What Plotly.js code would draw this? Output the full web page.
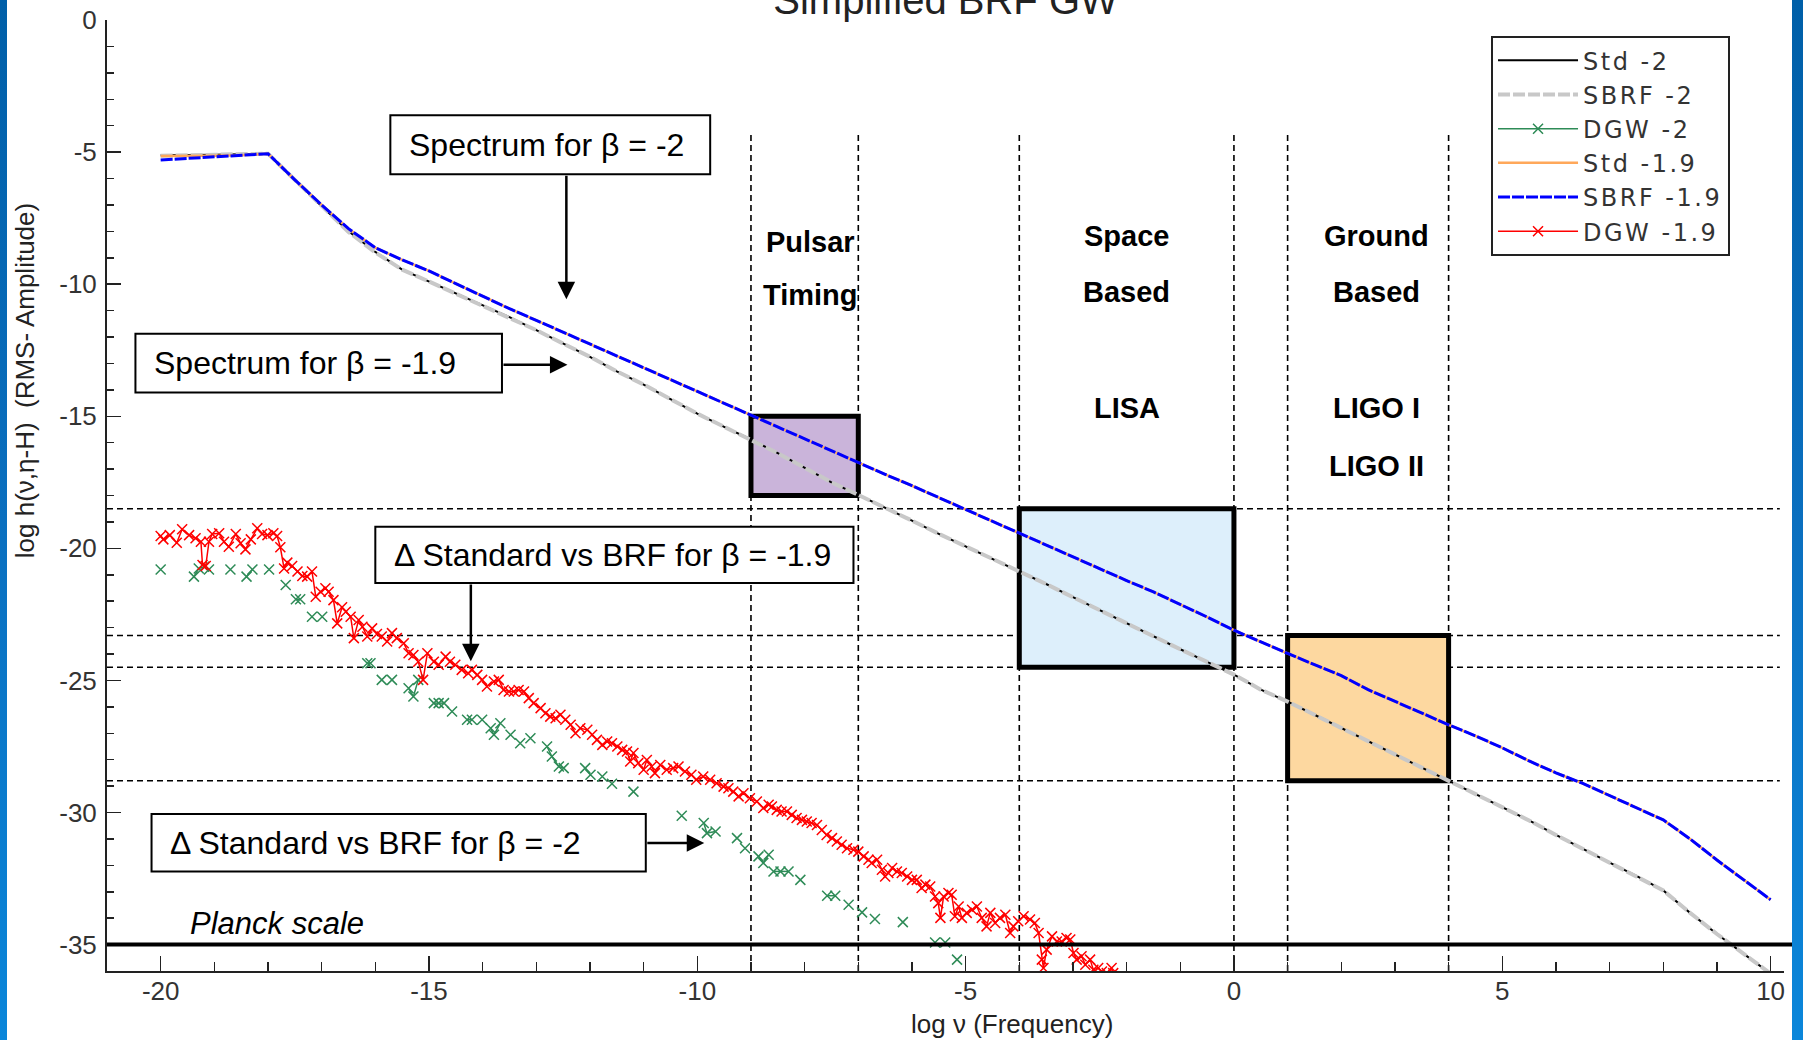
<!DOCTYPE html>
<html>
<head>
<meta charset="utf-8">
<script src="https://cdn.plot.ly/plotly-3.0.1.min.js"></script>
<style>
  html, body { margin: 0; padding: 0; background: #ffffff; }
  #wrap { position: relative; width: 1803px; height: 1040px; overflow: hidden; }
  #chart { position: absolute; left: 0; top: 0; width: 1803px; height: 1040px; }
  .strip { position: absolute; top: 0; height: 1040px; pointer-events: none;
           background: linear-gradient(to bottom, #005fa8 0%, #0a6fbf 50%, #0a86da 100%); }
  .legendtext { letter-spacing: 2.5px; }
</style>
</head>
<body>
<div id="wrap">
  <div id="chart"></div>
  <div class="strip" style="left:0;width:7px;"></div>
  <div class="strip" style="left:1792px;width:11px;"></div>
</div>
<script>
// ---- Data ----
const spectrumFreq = [-20,-19.5,-19,-18.5,-18,-17.5,-17,-16.5,-16,-15.5,-15,-14.5,-14,-13.5,-13,-12.5,-12,-11.5,-11,-10.5,-10,-9.5,-9,-8.5,-8,-7.5,-7,-6.5,-6,-5.5,-5,-4.5,-4,-3.5,-3,-2.5,-2,-1.5,-1,-0.5,0,0.5,1,1.5,2,2.5,3,3.5,4,4.5,5,5.5,6,6.5,7,7.5,8,8.5,9,9.5,10];

const std2 = [-5.12,-5.12,-5.10,-5.08,-5.06,-6.05,-7.05,-8.00,-8.78,-9.45,-9.90,-10.35,-10.78,-11.25,-11.74,-12.25,-12.75,-13.30,-13.80,-14.35,-14.90,-15.40,-15.88,-16.40,-16.95,-17.50,-17.98,-18.45,-18.95,-19.45,-19.92,-20.40,-20.85,-21.35,-21.85,-22.35,-22.85,-23.35,-23.82,-24.30,-24.78,-25.35,-25.80,-26.30,-26.80,-27.30,-27.80,-28.30,-28.78,-29.30,-29.80,-30.30,-30.85,-31.38,-31.90,-32.40,-32.95,-33.80,-34.60,-35.35,-36.10];
const sbrf2 = [-5.14,-5.12,-5.10,-5.08,-5.06,-6.05,-7.05,-8.02,-8.80,-9.45,-9.90,-10.35,-10.80,-11.25,-11.74,-12.25,-12.75,-13.30,-13.80,-14.35,-14.90,-15.40,-15.88,-16.40,-16.95,-17.50,-17.98,-18.45,-18.95,-19.45,-19.92,-20.40,-20.85,-21.35,-21.85,-22.35,-22.85,-23.35,-23.82,-24.30,-24.78,-25.35,-25.80,-26.30,-26.80,-27.30,-27.80,-28.30,-28.78,-29.30,-29.80,-30.30,-30.85,-31.38,-31.90,-32.40,-32.95,-33.80,-34.60,-35.35,-36.10];
const std19 = [-5.15,-5.15,-5.14,-5.12,-5.06,-6.05,-7.00,-7.90,-8.62,-9.08,-9.50,-9.98,-10.47,-10.93,-11.37,-11.82,-12.25,-12.70,-13.17,-13.60,-14.06,-14.50,-14.95,-15.40,-15.85,-16.30,-16.75,-17.20,-17.63,-18.08,-18.55,-18.98,-19.42,-19.90,-20.35,-20.78,-21.22,-21.65,-22.12,-22.60,-23.10,-23.55,-23.98,-24.40,-24.82,-25.35,-25.80,-26.25,-26.68,-27.10,-27.55,-28.05,-28.50,-28.90,-29.35,-29.80,-30.28,-31.00,-31.80,-32.55,-33.30];
const sbrf19 = [-5.30,-5.24,-5.18,-5.12,-5.06,-6.05,-7.00,-7.90,-8.62,-9.08,-9.50,-9.98,-10.47,-10.93,-11.37,-11.82,-12.25,-12.70,-13.17,-13.60,-14.06,-14.50,-14.95,-15.40,-15.85,-16.30,-16.75,-17.20,-17.63,-18.08,-18.55,-18.98,-19.42,-19.90,-20.35,-20.78,-21.22,-21.65,-22.12,-22.60,-23.10,-23.55,-23.98,-24.40,-24.82,-25.35,-25.80,-26.25,-26.68,-27.10,-27.55,-28.05,-28.50,-28.90,-29.35,-29.80,-30.28,-31.00,-31.80,-32.55,-33.30];

const dgw19Freq = [-20.00,-19.95,-19.83,-19.70,-19.60,-19.47,-19.35,-19.25,-19.22,-19.16,-19.10,-19.04,-18.91,-18.82,-18.73,-18.60,-18.51,-18.42,-18.32,-18.20,-18.11,-18.01,-17.90,-17.83,-17.77,-17.70,-17.64,-17.55,-17.45,-17.36,-17.27,-17.18,-17.11,-17.02,-16.93,-16.87,-16.78,-16.71,-16.62,-16.55,-16.46,-16.40,-16.31,-16.24,-16.15,-16.06,-15.97,-15.88,-15.78,-15.69,-15.60,-15.47,-15.38,-15.29,-15.20,-15.11,-15.03,-14.91,-14.82,-14.69,-14.61,-14.51,-14.39,-14.27,
  -14.20,-14.10,-14.01,-13.92,-13.79,-13.70,-13.61,-13.51,-13.42,-13.33,-13.23,-13.14,-13.05,-12.92,-12.83,-12.74,-12.64,-12.55,-12.46,-12.36,-12.27,-12.18,-12.05,-11.96,-11.87,-11.77,-11.68,-11.59,-11.49,-11.40,-11.31,-11.25,-11.19,-11.10,-11.00,-10.94,-10.85,-10.79,-10.69,-10.57,-10.45,-10.35,-10.23,-10.11,-10.02,-9.89,-9.76,-9.64,-9.51,-9.42,-9.33,-9.23,-9.14,-9.02,-8.89,-8.77,-8.67,
  -8.61,-8.52,-8.43,-8.33,-8.24,-8.15,-8.05,-7.96,-7.87,-7.77,-7.68,-7.59,-7.49,-7.40,-7.31,-7.21,-7.09,-7.00,-6.90,-6.81,-6.75,-6.65,-6.56,-6.50,-6.44,-6.37,-6.28,-6.19,-6.09,-6.00,-5.91,-5.82,-5.75,-5.66,-5.57,-5.51,-5.47,-5.41,-5.32,-5.26,-5.20,-5.13,-5.07,-4.98,-4.88,-4.79,-4.70,-4.61,-4.54,-4.45,-4.36,-4.26,-4.17,-4.11,-4.02,-3.92,-3.80,-3.71,-3.64,-3.58,-3.55,-3.49,-3.39,-3.30,-3.21,-3.12,-3.05,-2.99,-2.93,-2.84,-2.77,-2.68,-2.62,-2.53,-2.46,-2.37,-2.28,-2.25];
const dgw19 = [-19.53,-19.66,-19.50,-19.79,-19.28,-19.50,-19.62,-19.75,-20.63,-20.67,-19.75,-19.46,-19.43,-19.75,-19.94,-19.46,-19.81,-20.04,-19.66,-19.24,-19.46,-19.50,-19.43,-19.53,-19.96,-20.76,-20.54,-20.67,-20.88,-21.05,-21.07,-20.88,-21.83,-21.64,-21.51,-21.64,-21.96,-22.84,-22.23,-22.40,-22.59,-23.40,-22.71,-22.97,-23.34,-23.03,-23.24,-23.34,-23.53,-23.21,-23.40,-23.59,-23.97,-24.04,-24.29,-24.98,-23.97,-24.29,-24.41,-24.10,-24.29,-24.41,-24.60,-24.73,
  -24.60,-24.79,-24.98,-25.23,-25.04,-24.98,-25.36,-25.42,-25.42,-25.36,-25.42,-25.67,-25.86,-26.05,-26.24,-26.37,-26.43,-26.30,-26.49,-26.68,-27.00,-26.81,-26.87,-27.06,-27.25,-27.44,-27.31,-27.38,-27.50,-27.63,-27.69,-28.07,-27.75,-28.13,-28.38,-28.01,-28.26,-28.51,-28.20,-28.38,-28.32,-28.26,-28.45,-28.57,-28.76,-28.64,-28.76,-28.89,-29.02,-29.08,-29.21,-29.39,-29.27,-29.46,-29.58,-29.83,-29.71,
  -29.77,-29.90,-29.96,-29.96,-30.09,-30.21,-30.28,-30.34,-30.40,-30.47,-30.66,-30.85,-30.97,-31.10,-31.22,-31.35,-31.41,-31.48,-31.66,-31.79,-31.91,-31.79,-32.17,-32.42,-32.29,-32.10,-32.23,-32.29,-32.42,-32.55,-32.55,-32.86,-32.73,-32.80,-33.18,-33.43,-33.99,-33.18,-33.05,-33.11,-33.93,-33.56,-33.99,-33.80,-33.68,-33.56,-33.99,-34.31,-33.80,-34.18,-33.99,-33.87,-34.56,-34.31,-34.12,-33.93,-34.05,-34.18,-34.56,-35.57,-35.89,-35.19,-34.69,-34.88,-34.88,-34.75,-34.81,-35.32,-35.57,-35.44,-35.76,-35.57,-35.95,-35.89,-36.02,-36.08,-35.89,-36.08];

// DGW -2 : mostly isolated markers (null = gap in the line)
const dgw2Freq = [-20.00,null,-19.38,-19.29,-19.19,-19.10,null,-18.70,null,-18.40,-18.29,null,-17.98,null,-17.67,null,-17.48,-17.40,null,-17.18,null,-16.99,null,-16.15,-16.09,null,-15.88,null,-15.69,null,-15.38,-15.29,-15.20,null,-14.91,-14.82,-14.72,null,-14.57,null,-14.29,-14.20,null,-14.01,null,-13.85,-13.79,-13.67,null,-13.48,null,-13.30,null,-13.11,null,-12.80,-12.71,-12.58,-12.49,null,-12.09,-11.99,null,-11.77,null,-11.59,null,-11.19,null,-10.29,null,-9.88,-9.82,-9.66,null,-9.26,null,-9.11,null,-8.86,-8.77,-8.67,null,-8.58,-8.45,-8.30,null,-8.08,null,-7.58,-7.43,null,-7.18,null,-6.93,null,-6.69,null,-6.17,null,-5.57,null,-5.38,null,-5.16];
const dgw2 = [-20.80,null,-21.07,-20.76,-20.70,-20.80,null,-20.80,null,-21.07,-20.80,null,-20.80,null,-21.39,null,-21.93,-21.93,null,-22.59,null,-22.59,null,-24.35,-24.35,null,-24.98,null,-24.98,null,-25.30,-25.61,-24.98,null,-25.86,-25.86,-25.86,null,-26.18,null,-26.49,-26.49,null,-26.49,null,-26.81,-27.06,-26.62,null,-27.06,null,-27.38,null,-27.19,null,-27.50,-27.88,-28.26,-28.32,null,-28.32,-28.57,null,-28.64,null,-28.91,null,-29.21,null,-30.12,null,-30.40,-30.78,-30.72,null,-30.97,null,-31.35,null,-31.66,-31.91,-31.60,null,-32.23,-32.23,-32.23,null,-32.55,null,-33.15,-33.15,null,-33.49,null,-33.78,null,-34.03,null,-34.15,null,-34.92,null,-34.92,null,-35.57];

const xTickVals = [-20,-15,-10,-5,0,5,10];
const xTickText = ['-20','-15','-10','-5','0','5','10'];
const yTickVals = [0,-5,-10,-15,-20,-25,-30,-35];
const yTickText = ['0','-5','-10','-15','-20','-25','-30','-35'];

// Detector bands (log frequency) and sensitivity levels (log amplitude)
const bandEdges = [-9,-7,-4,0,1,4];
const levelLines = [-18.5,-23.3,-24.5,-28.8];
const planckLevel = -35;

// ---- Traces ----
const F = 'Liberation Sans, Arial, sans-serif';
const xMark = (c) => ({symbol:'x-thin', size:10, color:c, line:{color:c, width:1.5}});
const traces = [
  {x: spectrumFreq, y: std2, name:'Std -2', mode:'lines', line:{color:'#000000', width:2}},
  {x: spectrumFreq, y: sbrf2, name:'SBRF -2', mode:'lines', line:{color:'#c8c8c8', width:4, dash:'12px,3px'}},
  {x: dgw2Freq, y: dgw2, name:'DGW -2', mode:'lines+markers', connectgaps:false, line:{color:'#2e8b57', width:1.5}, marker: xMark('#2e8b57')},
  {x: spectrumFreq, y: std19, name:'Std -1.9', mode:'lines', line:{color:'#ffa85a', width:2.5}},
  {x: spectrumFreq, y: sbrf19, name:'SBRF -1.9', mode:'lines', line:{color:'#0000ff', width:3, dash:'12px,2px'}},
  {x: dgw19Freq, y: dgw19, name:'DGW -1.9', mode:'lines+markers', line:{color:'#ff0000', width:1.5}, marker: xMark('#ff0000')}
];

// ---- Shapes ----
const shapes = [];
const boxes = [
  {x0:-9, x1:-7, y0:-15, y1:-18, fill:'#cab4da'},
  {x0:-4, x1:0, y0:-18.5, y1:-24.5, fill:'#ddeffb'},
  {x0:1, x1:4, y0:-23.3, y1:-28.8, fill:'#fdd8a0'}
];
boxes.forEach(b => shapes.push({type:'rect', xref:'x', yref:'y', x0:b.x0, x1:b.x1, y0:b.y0, y1:b.y1, fillcolor:b.fill, line:{width:0}, layer:'below'}));
bandEdges.forEach(v => shapes.push({type:'line', xref:'x', yref:'y', x0:v, x1:v, y0:-36, y1:-4.35, line:{color:'#000', width:1.6, dash:'6px,4px'}, layer:'below'}));
levelLines.forEach(v => shapes.push({type:'line', xref:'paper', yref:'y', x0:0, x1:0.9975, y0:v, y1:v, line:{color:'#000', width:1.6, dash:'6px,4px'}, layer:'below'}));
boxes.forEach(b => shapes.push({type:'rect', xref:'x', yref:'y', x0:b.x0, x1:b.x1, y0:b.y0, y1:b.y1, fillcolor:'rgba(0,0,0,0)', line:{color:'#000', width:5}, layer:'below'}));
// text boxes
const textBoxes = [
  {x0:-15.72, x1:-9.76, y0:-3.61, y1:-5.84, text:'Spectrum for β = -2'},
  {x0:-20.47, x1:-13.64, y0:-11.88, y1:-14.10, text:'Spectrum for β = -1.9'},
  {x0:-16.00, x1:-7.09, y0:-19.18, y1:-21.31, text:'Δ Standard vs BRF for β = -1.9'},
  {x0:-20.17, x1:-10.96, y0:-30.06, y1:-32.23, text:'Δ Standard vs BRF for β = -2'}
];
textBoxes.forEach(b => shapes.push({type:'rect', xref:'x', yref:'y', x0:b.x0, x1:b.x1, y0:b.y0, y1:b.y1, fillcolor:'#ffffff', line:{color:'#000', width:2}, layer:'above'}));
shapes.push({type:'line', xref:'paper', yref:'y', x0:0, x1:1.007, y0:planckLevel, y1:planckLevel, line:{color:'#000', width:4}, layer:'above'});

// ---- Annotations ----
const annotations = [];
textBoxes.forEach(b => annotations.push({x:b.x0 + 0.31, y:(b.y0+b.y1)/2, xref:'x', yref:'y', xanchor:'left', yanchor:'middle', text:b.text, showarrow:false, font:{family:F, size:32, color:'#000'}}));
const arrows = [
  {tx:-12.44, ty:-5.84, hx:-12.44, hy:-10.57},
  {tx:-13.64, ty:-13.05, hx:-12.42, hy:-13.05},
  {tx:-14.22, ty:-21.31, hx:-14.22, hy:-24.27},
  {tx:-10.96, ty:-31.15, hx:-9.87, hy:-31.15}
];
arrows.forEach(a => annotations.push({x:a.hx, y:a.hy, ax:a.tx, ay:a.ty, xref:'x', yref:'y', axref:'x', ayref:'y', text:'', showarrow:true, arrowhead:2, arrowsize:1.4, arrowwidth:2.5, arrowcolor:'#000', standoff:0}));
const bandLabels = [
  {x:-7.9, y:-8.40, t:'<b>Pulsar</b>'}, {x:-7.9, y:-10.40, t:'<b>Timing</b>'},
  {x:-2.0, y:-8.18, t:'<b>Space</b>'}, {x:-2.0, y:-10.31, t:'<b>Based</b>'}, {x:-2.0, y:-14.69, t:'<b>LISA</b>'},
  {x:2.65, y:-8.18, t:'<b>Ground</b>'}, {x:2.65, y:-10.31, t:'<b>Based</b>'}, {x:2.65, y:-14.69, t:'<b>LIGO I</b>'}, {x:2.65, y:-16.88, t:'<b>LIGO II</b>'}
];
bandLabels.forEach(l => annotations.push({x:l.x, y:l.y, xref:'x', yref:'y', text:l.t, showarrow:false, font:{family:F, size:29, color:'#000'}}));
annotations.push({x:-19.49, y:-34.19, xref:'x', yref:'y', xanchor:'left', yanchor:'middle', text:'<i>Planck scale</i>', showarrow:false, font:{family:F, size:31, color:'#000'}});
annotations.push({x:-4.14, y:-0.0555, xref:'x', yref:'paper', xanchor:'center', yanchor:'middle', text:'log ν (Frequency)', showarrow:false, font:{family:F, size:26, color:'#222'}});
annotations.push({x:-0.0489, y:0.6212, xref:'paper', yref:'paper', xanchor:'center', yanchor:'middle', textangle:-90, text:'log h(ν,η-H)  (RMS- Amplitude)', showarrow:false, font:{family:F, size:26, color:'#222'}});

const layout = {
  width:1803, height:1040,
  margin:{l:107, r:19, t:20, b:69, pad:0},
  paper_bgcolor:'#ffffff', plot_bgcolor:'#ffffff',
  title:{text:'Simplified BRF GW', x:0.5, xref:'paper', y:1, yref:'container', yanchor:'middle', font:{family:F, size:40, color:'#222'}},
  showlegend:true,
  legend:{x:0.8253, y:0.983, xanchor:'left', yanchor:'top', bgcolor:'#ffffff', bordercolor:'#222', borderwidth:2, itemwidth:80,
          font:{family:'DejaVu Sans, Verdana, sans-serif', size:24, color:'#333'}, traceorder:'normal'},
  xaxis:{range:[-21,10.25], tickmode:'array', tickvals:xTickVals, ticktext:xTickText, ticks:'inside', ticklen:15, tickwidth:1.5, tickcolor:'#222',
         minor:{dtick:1, tick0:0, ticks:'inside', ticklen:9, tickwidth:1.5, tickcolor:'#222', showgrid:false},
         showline:true, linecolor:'#222', linewidth:2, showgrid:false, zeroline:false, ticklabelstandoff:-4,
         tickfont:{family:F, size:26, color:'#333'}},
  yaxis:{range:[-36,0], tickmode:'array', tickvals:yTickVals, ticktext:yTickText, ticks:'inside', ticklen:14, tickwidth:1.5, tickcolor:'#222',
         minor:{dtick:1, tick0:0, ticks:'inside', ticklen:7, tickwidth:1.5, tickcolor:'#222', showgrid:false},
         showline:true, linecolor:'#222', linewidth:2, showgrid:false, zeroline:false, ticklabelstandoff:3,
         tickfont:{family:F, size:26, color:'#333'}},
  shapes: shapes,
  annotations: annotations
};

Plotly.newPlot('chart', traces, layout, {staticPlot:true, displayModeBar:false});
</script>
</body>
</html>
